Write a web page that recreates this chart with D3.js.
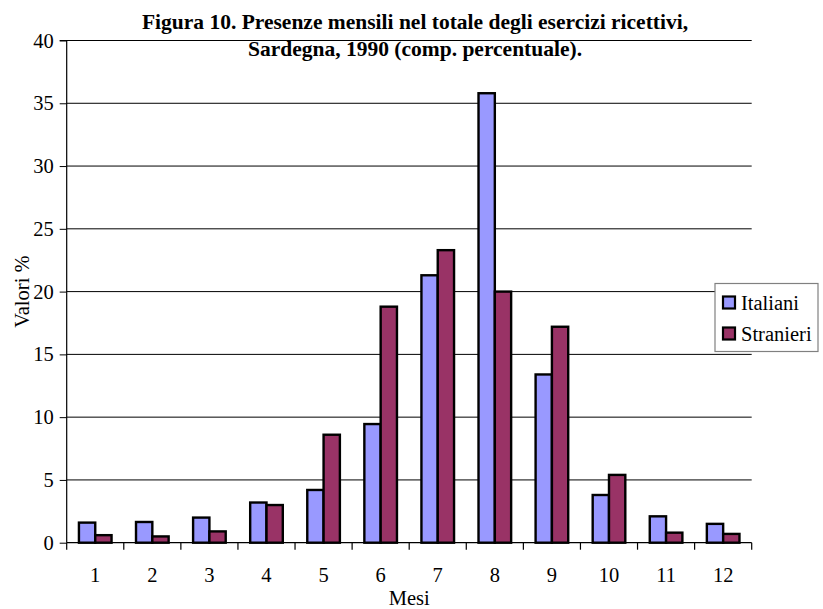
<!DOCTYPE html>
<html>
<head>
<meta charset="utf-8">
<script src="https://cdn.jsdelivr.net/npm/d3@7"></script>
<style>
  html, body { margin: 0; padding: 0; background: #fff; }
  svg { display: block; font-family: "Liberation Serif", "Times New Roman", serif; }
</style>
</head>
<body>
<svg id="chart" width="823" height="609"></svg>
<script>
// Monthly share of overnight stays (percent), Sardinia 1990
const months = ["1", "2", "3", "4", "5", "6", "7", "8", "9", "10", "11", "12"];
const italiani = [1.6, 1.65, 2.0, 3.2, 4.2, 9.45, 21.3, 35.8, 13.4, 3.8, 2.1, 1.5];
const stranieri = [0.6, 0.5, 0.9, 3.0, 8.6, 18.8, 23.3, 20.0, 17.2, 5.4, 0.8, 0.7];
const seriesNames = ["Italiani", "Stranieri"];
const seriesColors = ["#9999FF", "#993366"];
const yTicks = [0, 5, 10, 15, 20, 25, 30, 35, 40];
const titleLines = [
  "Figura 10. Presenze mensili nel totale degli esercizi ricettivi,",
  "Sardegna, 1990 (comp. percentuale)."
];

const svg = d3.select("#chart");
const plot = { left: 66.7, right: 751.7, top: 40.5, bottom: 542.7 };
const fontSize = 20.5;

const x = d3.scaleBand().domain(months).range([plot.left, plot.right]).paddingInner(0).paddingOuter(0);
const y = d3.scaleLinear().domain([0, 40]).range([plot.bottom, plot.top]);

// Two bars per month with a 150% gap between groups
const barW = x.bandwidth() / 3.5;
const groupOffset = (x.bandwidth() - 2 * barW) / 2;

const rows = months.map((m, i) => ({ m, vals: [italiani[i], stranieri[i]] }));

// Horizontal gridlines
svg.append("g")
  .selectAll("line")
  .data(yTicks.filter(d => d > 0))
  .join("line")
  .attr("x1", plot.left).attr("x2", plot.right)
  .attr("y1", d => y(d)).attr("y2", d => y(d))
  .attr("stroke", "#000").attr("stroke-width", 1);

// Bars
const groups = svg.append("g").selectAll("g")
  .data(rows)
  .join("g")
  .attr("transform", d => `translate(${x(d.m) + groupOffset},0)`);

groups.selectAll("rect")
  .data(d => d.vals.map((v, k) => ({ v, k })))
  .join("rect")
  .attr("x", d => d.k * barW)
  .attr("y", d => y(d.v))
  .attr("width", barW)
  .attr("height", d => y(0) - y(d.v))
  .attr("fill", d => seriesColors[d.k])
  .attr("stroke", "#000")
  .attr("stroke-width", 2.4);

// Y axis
const yAxis = d3.axisLeft(y).tickValues(yTicks).tickSize(7).tickPadding(6).tickFormat(d3.format("d"));
const gy = svg.append("g").attr("transform", `translate(${plot.left},0)`).call(yAxis);
gy.select(".domain").attr("stroke", "#000").attr("stroke-width", 1.2).attr("d", `M-7,${plot.top}H0V${plot.bottom}`);
gy.selectAll(".tick line").attr("stroke", "#000");
gy.selectAll("text").attr("font-size", fontSize).attr("font-family", "Liberation Serif, Times New Roman, serif").attr("fill", "#000");

// X axis: ticks at category boundaries
const xAxisG = svg.append("g").attr("transform", `translate(0,${plot.bottom})`);
xAxisG.append("line")
  .attr("x1", plot.left).attr("x2", plot.right)
  .attr("stroke", "#000").attr("stroke-width", 1.2);
const boundaries = months.map(m => x(m)).concat([plot.right]);
xAxisG.selectAll(".bt")
  .data(boundaries)
  .join("line")
  .attr("class", "bt")
  .attr("x1", d => d).attr("x2", d => d)
  .attr("y1", 0).attr("y2", 7)
  .attr("stroke", "#000").attr("stroke-width", 1.2);
xAxisG.selectAll(".xl")
  .data(months)
  .join("text")
  .attr("class", "xl")
  .attr("x", d => x(d) + x.bandwidth() / 2)
  .attr("y", 39)
  .attr("text-anchor", "middle")
  .attr("font-size", fontSize)
  .text(d => d);

// Axis titles
svg.append("text")
  .attr("x", (plot.left + plot.right) / 2)
  .attr("y", 605)
  .attr("text-anchor", "middle")
  .attr("font-size", fontSize)
  .text("Mesi");

svg.append("text")
  .attr("transform", `translate(28.5,${(plot.top + plot.bottom) / 2}) rotate(-90)`)
  .attr("text-anchor", "middle")
  .attr("font-size", fontSize)
  .text("Valori %");

// Title
svg.append("g").selectAll("text")
  .data(titleLines)
  .join("text")
  .attr("x", 415)
  .attr("y", (d, i) => 29 + i * 27)
  .attr("text-anchor", "middle")
  .attr("font-size", 21.5)
  .attr("font-weight", "bold")
  .text(d => d);

// Legend
const legend = svg.append("g").attr("transform", "translate(715,283.5)");
legend.append("rect")
  .attr("width", 103).attr("height", 68)
  .attr("fill", "#fff").attr("stroke", "#808080").attr("stroke-width", 1.2);
const li = legend.selectAll("g")
  .data(seriesNames)
  .join("g")
  .attr("transform", (d, i) => `translate(0,${13 + i * 31})`);
li.append("rect")
  .attr("x", 8).attr("y", 0).attr("width", 12).attr("height", 12)
  .attr("fill", (d, i) => seriesColors[i])
  .attr("stroke", "#000").attr("stroke-width", 2.2);
li.append("text")
  .attr("x", 26).attr("y", 13)
  .attr("font-size", fontSize)
  .text(d => d);
</script>
</body>
</html>
